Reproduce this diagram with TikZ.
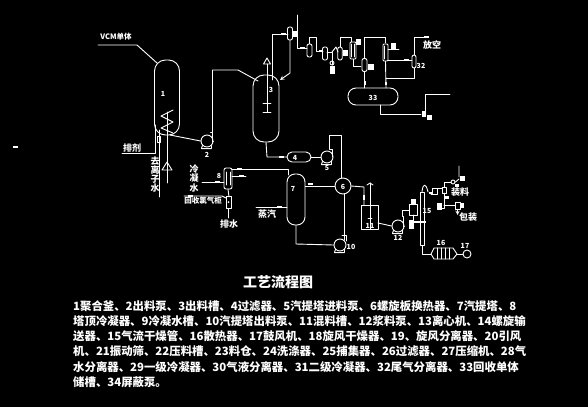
\documentclass[tikz,border=0pt]{standalone}
\usepackage{fontspec}
\setmainfont{Noto Sans CJK SC}
\tikzset{
  pipe/.style={draw=white,line width=0.9pt},
  vessel/.style={draw=white,line width=0.9pt,rectangle,inner sep=0pt},
  smallv/.style={vessel,rounded corners=2pt,minimum width=5pt,minimum height=13pt},
  pump/.style={draw=white,line width=0.9pt,circle,inner sep=0pt,minimum size=12pt},
  blob/.style={fill=white,rectangle,inner sep=0pt,minimum width=5pt,minimum height=2.5pt},
  block/.style={fill=white,rectangle,inner sep=0pt,minimum width=5pt,minimum height=6pt},
  lab/.style={white,inner sep=0pt,font=\fontsize{7}{7}\selectfont\bfseries},
  txt/.style={white,inner sep=0pt,font=\fontsize{9}{9}\selectfont\bfseries},
  body/.style={white,inner sep=0pt,anchor=west,font=\fontsize{11.4}{11.4}\selectfont\bfseries}
}
\begin{document}
\begin{tikzpicture}[x=1pt,y=-1pt,line cap=round,line join=round]
  \fill[black] (0,0) rectangle (588,407);
  \useasboundingbox (0,0) rectangle (588,407);
  \node[blob,minimum width=5pt,minimum height=2pt] (dash) at (15.5,147) {};

  % Polymerisation and stripping
  \node[vessel,minimum width=25pt,minimum height=75pt,rounded corners=11pt] (v1) at (167,97.5) {};
  \node[vessel,minimum width=26pt,minimum height=67pt,rounded corners=11pt] (v3) at (266,108.5) {};
  \node[vessel,minimum width=24pt,minimum height=10pt,rounded corners=5pt] (f4) at (299,157) {};
  \node[vessel,minimum width=18pt,minimum height=51pt,rounded corners=8pt] (v7) at (296,199.5) {};
  \node[pump] (p2) at (207,141) {};
  \node[pump] (p5) at (327,157) {};
  \node[pump] (p10) at (340,245) {};
  \node[pump] (p12) at (398,226) {};
  \node[pump,minimum size=16pt] (hx6) at (343,186) {};
  \foreach \p in {p2,p5,p10,p12}
    \draw[pipe] (\p.south west)--++(-1,3)--++(10,0)--(\p.south east);
  \foreach \n/\t/\a/\b in {l1/1/163/94,l2/2/207/155,l3/3/271/90,l4/4/295/158,l5/5/327/168,l6/6/343/187,
      l7/7/293/189,l8/8/219/176,l10/10/351/247,l11/11/370/226,l12/12/398/238,l15/15/427/211,l16/16/441/243,l17/17/465/246}
    \node[lab] (\n) at (\a,\b) {\t};

  % Vessel 1 stirrer and feeds
  \coordinate (s1) at (167,112);
  \coordinate (s2) at (167,183);
  \draw[pipe] (s1)--(s2);
  \draw[pipe] (167,162)--(162,170)--(172,170)--cycle;
  \draw[pipe] (173,110)--(161,116)--(173,122)--(161,128)--(173,133);
  \coordinate (feedL) at (122,153);
  \draw[pipe] (feedL)-|(155,125);
  \draw[pipe] (159,130)--(159,197);
  \draw[pipe] (157.5,136) rectangle (160.5,142);
  \node[txt] (t1) at (132,148) {排剂};
  \node[txt] (t2) at (155,161) {去};
  \node[txt] (t3) at (155,170) {离};
  \node[txt] (t4) at (155,179) {子};
  \node[txt] (t5) at (155,188) {水};
  \coordinate (vcmA) at (98,45);
  \draw[pipe] (vcmA)--(137,45)--(157,63);
  \node[txt,font=\fontsize{7.5}{7.5}\selectfont\bfseries] (vcm) at (116,37) {VCM单体};
  \draw[pipe] (170,135)--(p2.west);
  \draw[pipe] (p2.east)--(212.5,141)--(212.5,132)--(210.5,132);
  \draw[pipe] (212.5,132)--(212.5,70)--(238,70)--(258,81);

  % Vessel 3 top and stirrer
  \draw[pipe] (267,64)--(267,112) (263,103)--(271,103) (263,112)--(271,112);
  \draw[pipe] (267,58)--(263.5,64)--(270.5,64)--cycle;
  \draw[pipe] (v3.south)--(267,157)--(f4.west);
  \node[blob] (b4) at (281,157) {};
  \draw[pipe] (f4.east)--(p5.west);
  \draw[pipe] (332,157)--(332,149)--(329,149)--(329,135)--(341,135)--(341,178);
  \draw[pipe] (hx6.west)--(v7.east|-hx6.west);
  \node[blob] (b6) at (310,184) {};
  \draw[pipe] (233,169)--(288,169)--(288,175);
  \node[blob] (b7) at (279,207) {};
  \draw[pipe] (256,207)--(287,207);
  \draw[pipe] (296,225)--(296,244)--(p10.west);
  \draw[pipe] (344,240)--(344,194);
  \draw[pipe] (344,235)--(342,235) (346,241)--(346,235)--(344,235);
  \node[txt] (t6) at (267,214) {蒸汽};

  % Condenser on the steam side
  \node[vessel,minimum width=8pt,minimum height=21pt,rounded corners=2pt] (c8) at (228,178.5) {};
  \draw[pipe] (226,172)--(226,185) (230,172)--(230,185);
  \draw[pipe] (202,182)--(224,182);
  \node[blob] (b8) at (217,182) {};
  \node[blob] (b9) at (239,169) {};
  \draw[pipe] (232,176)--(246,176);
  \node[blob] (b10) at (241,176) {};
  \draw[pipe] (232,169)--(233,169);
  \draw[pipe] (228,189)--(229,197);
  \node[vessel,minimum width=5pt,minimum height=12pt] (s9) at (228.5,202) {};
  \fill[white] (228.5,202) circle (1pt);
  \draw[pipe] (184,196)--(222,196)--(226,198);
  \node[blob] (b11) at (190,196) {};
  \draw[pipe] (s9.south)--(228.5,218);
  \node[txt] (t7) at (194,169) {冷};
  \node[txt] (t8) at (194,178) {凝};
  \node[txt] (t9) at (194,188) {水};
  \node[txt,font=\fontsize{7.5}{7.5}\selectfont\bfseries] (t10) at (203,201) {回收氯气柜};
  \node[txt] (t11) at (229,224) {排水};

  % Mixing, centrifuge, drying
  \node[vessel,minimum width=17pt,minimum height=24pt] (t11a) at (369.5,217) {};
  \draw[pipe] (hx6.east)--(364,187)--(364,205);
  \node[blob,minimum width=1.5pt,minimum height=5pt] (b12) at (364,197) {};
  \draw[pipe] (370,183)--(370,229) (368,218)--(372,218);
  \draw[pipe] (367,185)--(370,183)--(373,185);
  \draw[pipe] (378,223)--(p12.west);
  \draw[pipe] (p12.east)--(403,226)--(403,216)--(402,216)--(402,210)--(409,210);
  \node[vessel,minimum width=8pt,minimum height=11pt] (c13) at (413,210) {};
  \node[block] (b13) at (413,202) {};
  \node[block,minimum height=9pt] (b14) at (411.5,224.5) {};
  \node[blob,minimum width=17pt,minimum height=2pt] (b15) at (417.5,222) {};
  \draw[pipe] (413,215)--(413,222);
  \node[vessel,minimum width=4pt,minimum height=53pt] (d15) at (422,218.5) {};
  \draw[pipe] (d15.north)..controls (423,183) and (426,183) .. (428,192);
  \node[blob,minimum width=3pt] (b16) at (430,193) {};
  \draw[pipe] (431,194)--(432,194)--(432,188)--(437,188)--(437,194)--(431,194);
  \draw[pipe] (437,188)--(442,188);
  \node[vessel,minimum width=4pt,minimum height=6pt] (c19) at (444,190) {};
  \draw[pipe] (444,187)--(444,182)--(451,182);
  \node[pump,minimum size=4pt] (p20) at (453,182) {};
  \draw[pipe] (p20.east)--(459,179) (459,177)--(459,166);
  \node[block,minimum height=5pt] (b20) at (462,178) {};
  \node[block,minimum width=4pt,minimum height=3pt] (b21) at (457,185) {};
  \draw[pipe] (444,193)--(444,208)--(442,208);
  \node[block,minimum height=7pt] (b22) at (439.5,206.5) {};
  \node[block,minimum width=4pt,minimum height=3pt] (b23) at (447,197) {};
  \draw[pipe] (444,205)--(455,205);
  \node[vessel,minimum width=5pt,minimum height=7pt] (s23) at (457.5,205.5) {};
  \node[block,minimum width=3pt,minimum height=5pt] (b24) at (462.5,205.5) {};
  \draw[pipe,-stealth] (s23.south)--(457.5,215);
  \node[txt] (t12) at (460,192) {装料};
  \node[txt] (t13) at (468,217) {包装};
  \draw[pipe] (d15.south)--(422,254)--(431,254);
  \draw[pipe] (431,254)--(434,248)--(453,248)--(457,254)--(453,259)--(434,259)--cycle;
  \foreach \a in {437,441,445,449} \draw[pipe] (\a,248)--(\a,259);
  \node[pump,minimum size=8pt] (p17) at (467,254) {};
  \draw[pipe] (457,254)--(p17.west);

  % Recovery train
  \node[vessel,minimum width=50pt,minimum height=17pt,rounded corners=8pt] (t33) at (373,96.5) {};
  \draw[pipe] (272,80)--(272,34)--(288,34);
  \node[blob] (b24a) at (283,34) {};
  \node[smallv] (sv24) at (290,33.5) {};
  \node[block] (b25) at (295,33.5) {};
  \draw[pipe,-stealth] (290,40)--(290,73)--(280,80);
  \draw[pipe] (297,15)--(297,48)--(307,48);
  \node[blob] (b26) at (302,48) {};
  \node[smallv] (sv25) at (309.5,50.5) {};
  \draw[pipe] (sv25.north)--(309.5,37)--(316,37)--(316,51)--(323,51);
  \node[blob,minimum width=3pt] (b27) at (320,51) {};
  \node[smallv] (sv26) at (325,53.5) {};
  \draw[pipe] (327,52)--(332,52)--(332,65);
  \draw[pipe] (332,63) circle (2pt);
  \node[block,minimum height=8pt] (b28) at (332.5,69.5) {};
  \draw[pipe] (332,52)--(336,47)--(338,52);
  \node[smallv,minimum width=4.5pt] (sv28) at (340,53.5) {};
  \node[block] (b29) at (345.5,53) {};
  \draw[pipe] (sv28.north)--(340,37)--(351,37)--(351,42);
  \node[vessel,minimum width=6pt,minimum height=17pt,rounded corners=1pt] (hx29) at (353,50.5) {};
  \draw[pipe] (351.5,44)--(351.5,57) (354.5,44)--(354.5,57);
  \node[block] (b30) at (358,42) {};
  \draw[pipe] (hx29.south)--(353,66)--(361,66);
  \node[smallv] (sv30) at (364.5,65) {};
  \node[block,minimum width=6pt] (b31) at (371,67) {};
  \draw[pipe] (sv30.north)--(364.5,37)--(385,37)--(385,43);
  \draw[pipe] (sv30.south)--(364.5,88);
  \node[blob,minimum width=2pt,minimum height=4pt] (b32) at (364.5,83) {};
  \node[vessel,minimum width=5pt,minimum height=17pt,rounded corners=1pt] (hx31) at (385.5,52.5) {};
  \draw[pipe] (384.5,46)--(384.5,59);
  \node[block,minimum height=6pt] (b33) at (393,46) {};
  \draw[pipe] (388,49)--(399,49);
  \draw[pipe] (hx31.south)--(386,88);
  \draw[pipe] (388,60)--(412,60);
  \node[blob] (b34) at (406,60) {};
  \node[smallv,minimum width=4pt] (sv32) at (414,61.5) {};
  \draw[pipe] (sv32.north)--(414,37)--(428,37);
  \node[blob] (b35) at (426,37) {};
  \draw[pipe] (sv32.south)--(414,78)--(386,78);
  \node[blob,minimum width=2pt,minimum height=3pt] (b36) at (386,83) {};
  \node[txt] (t14) at (432,45) {放空};
  \node[lab] (l32) at (421,66) {32};
  \node[lab] (l33) at (373,98) {33};
  \draw[pipe] (380,105)--(380,114)--(421,114);
  \node[block,minimum width=4pt,minimum height=6pt] (b37) at (424,114) {};
  \node[block,minimum height=5pt] (b38) at (429,117.5) {};
  \draw[pipe] (425,111)--(425,94)--(450,94);

  % Caption
  \node[white,inner sep=0pt,font=\fontsize{14}{14}\selectfont\bfseries] (title) at (278,282) {工艺流程图};
  \node[body] (r1) at (73,306) {1聚合釜、2出料泵、3出料槽、4过滤器、5汽提塔进料泵、6螺旋板换热器、7汽提塔、8};
  \node[body] (r2) at (73,321) {塔顶冷凝器、9冷凝水槽、10汽提塔出料泵、11混料槽、12浆料泵、13离心机、14螺旋输};
  \node[body] (r3) at (73,336) {送器、15气流干燥管、16散热器、17鼓风机、18旋风干燥器、19、旋风分离器、20引风};
  \node[body] (r4) at (73,351) {机、21振动筛、22压料槽、23料仓、24洗涤器、25捕集器、26过滤器、27压缩机、28气};
  \node[body] (r5) at (73,367) {水分离器、29一级冷凝器、30气液分离器、31二级冷凝器、32尾气分离器、33回收单体};
  \node[body] (r6) at (73,382) {储槽、34屏蔽泵。};
\end{tikzpicture}
\end{document}
